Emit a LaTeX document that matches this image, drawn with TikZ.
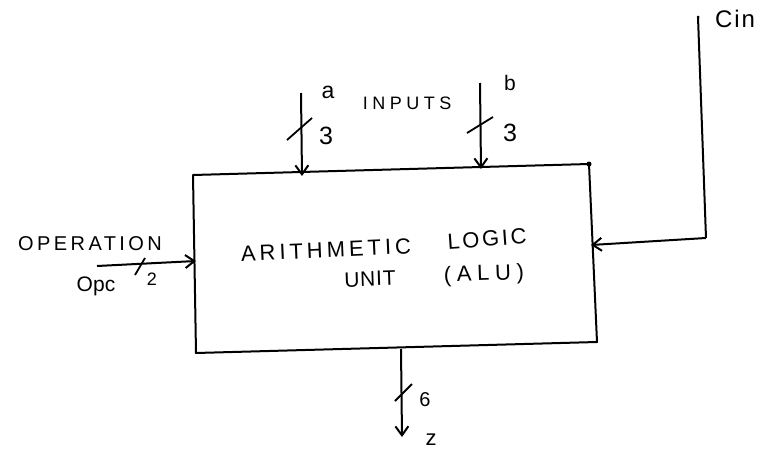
\documentclass[tikz,border=0pt]{standalone}
\usepackage{fontspec}
\setmainfont{Liberation Sans}
\newcommand\ls[1]{\addfontfeatures{LetterSpace=#1}}
\usetikzlibrary{arrows.meta}
\tikzset{
  wire/.style={line width=2pt},
  sig/.style={line width=2pt,-{Straight Barb[length=9pt,width=13pt,line width=2pt]}},
  slash/.style={line width=1.8pt},
  txt/.style={inner sep=0pt},
}
\newcommand\fs[1]{\fontsize{#1}{#1}\selectfont}
\begin{document}
\begin{tikzpicture}[x=1pt,y=-1pt]
\useasboundingbox (0,0) rectangle (772,450);
% box corners
\coordinate (tl) at (193,175);
\coordinate (tr) at (589,164);
\coordinate (br) at (597,342);
\coordinate (bl) at (196,353);
\draw[wire,line join=round] (tl) -- (tr) -- (br) -- (bl) -- cycle;
\fill (tr) circle (2.5pt);
% inputs a, b
\coordinate (a0) at (301,93);
\coordinate (a1) at (302,176);
\draw[sig] (a0) -- (a1);
\draw[slash] (287,140) -- (312,118);
\node[txt] (la) at (328,92) {\fs{23}a};
\node[txt] (la3) at (326,136) {\fs{25}3};
\coordinate (b0) at (480,83);
\coordinate (b1) at (481,169);
\draw[sig] (b0) -- (b1);
\draw[slash] (467,133) -- (493,117);
\node[txt] (lb) at (510,83) {\fs{21}b};
\node[txt] (lb3) at (510,133) {\fs{25}3};
\node[txt] (inp) at (407,103) {\fs{18}\ls{25}INPUTS};
% Cin
\coordinate (c0) at (698,17);
\coordinate (c1) at (706,238);
\coordinate (c2) at (591,245);
\draw[wire] (c0) -- (c1);
\draw[sig] (c1) -- (c2);
\fill (c0) circle (1.5pt);
\node[txt, anchor=west] (cin) at (715,19) {\fs{24}\ls{8}Cin};
% operation
\coordinate (o0) at (97,266);
\coordinate (o1) at (196,261);
\draw[sig] (o0) -- (o1);
\draw[slash] (135,275) -- (145,258);
\node[txt] (op) at (90,244) {\fs{20}\ls{17}OPERATION};
\node[txt] (opc) at (96,286) {\fs{21}Opc};
\node[txt] (op2) at (152,279) {\fs{18}2};
% output z
\coordinate (z0) at (401,349);
\coordinate (z1) at (402,437);
\draw[sig] (z0) -- (z1);
\draw[slash] (395,401) -- (412,384);
\node[txt] (l6) at (425,400) {\fs{20}6};
\node[txt] (lz) at (431,440) {\fs{22}z};
% ALU label
\node[txt, rotate=2.5] (t1) at (326,250) {\fs{22}\ls{18}ARITHMETIC};
\node[txt, rotate=4] (t2) at (487,239) {\fs{22}\ls{12}LOGIC};
\node[txt, rotate=2] (t3) at (370,279) {\fs{21}\ls{4}UNIT};
\node[txt, rotate=2] (t4) at (484,275) {\fs{22}\ls{26}(ALU)};
\end{tikzpicture}
\end{document}
